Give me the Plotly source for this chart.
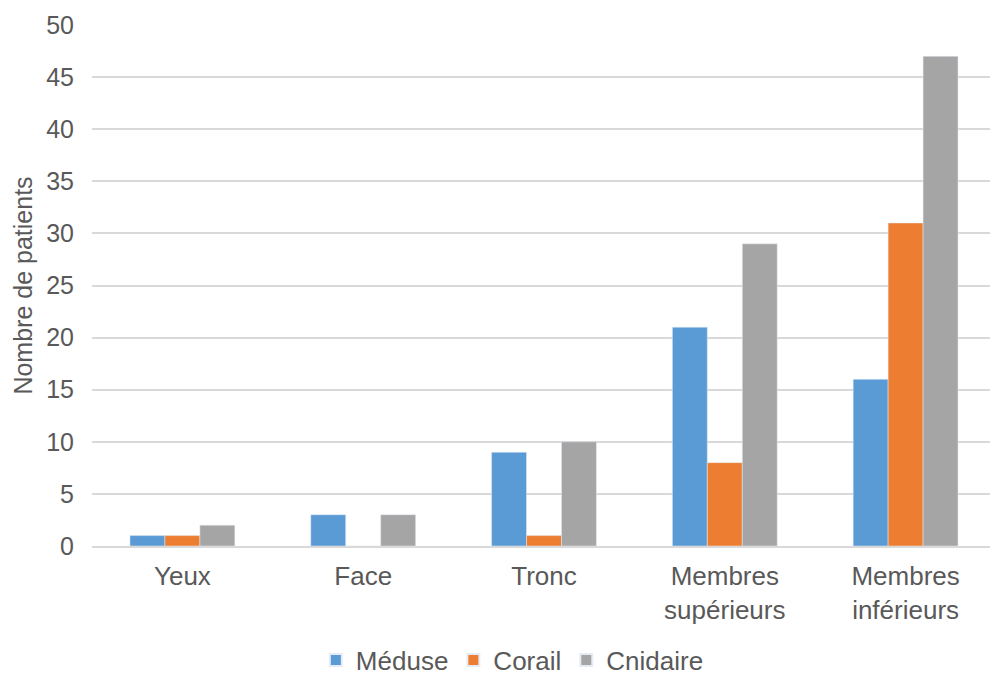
import plotly.graph_objects as go

categories = ["Yeux", "Face", "Tronc", "Membres<br>supérieurs", "Membres<br>inférieurs"]
meduse = [1, 3, 9, 21, 16]
corail = [1, 0, 1, 8, 31]
cnidaire = [2, 3, 10, 29, 47]
y_ticks = [0, 5, 10, 15, 20, 25, 30, 35, 40, 45, 50]

grey = "#595959"
fam = "Liberation Sans, Arial, sans-serif"
font = dict(family=fam, size=26, color=grey)
yfont = dict(family=fam, size=25, color=grey)

fig = go.Figure()
fig.add_bar(x=categories, y=meduse, name="Méduse", marker_color="#5B9BD5")
fig.add_bar(x=categories, y=corail, name="Corail", marker_color="#ED7D31")
fig.add_bar(x=categories, y=cnidaire, name="Cnidaire", marker_color="#A5A5A5")

# page body has an 8px default margin, so the figure is shrunk and offset accordingly
fig.update_layout(
    width=990, height=665,
    margin=dict(l=84, r=2, t=17, b=127, autoexpand=False),
    paper_bgcolor="white", plot_bgcolor="white",
    font=font,
    barmode="group", bargap=0.42, bargroupgap=0,
    showlegend=True,
    legend=dict(orientation="h", x=0.465, xanchor="center", y=-0.219, yanchor="middle",
                font=font, itemsizing="constant", traceorder="normal",
                itemwidth=30, tracegroupgap=0),
    xaxis=dict(showgrid=False, showline=True, linecolor="#D9D9D9", linewidth=1.5,
               ticks="", tickfont=font, automargin=False, ticklabelstandoff=6),
    yaxis=dict(range=[0, 50], tickvals=y_ticks, showgrid=True, gridcolor="#D9D9D9",
               gridwidth=1.5, zeroline=False, showline=False, ticks="", tickfont=yfont,
               ticklabelstandoff=17, automargin=False,
               title=dict(text="Nombre de patients", font=yfont, standoff=6)),
)
fig.write_html("out.html")
